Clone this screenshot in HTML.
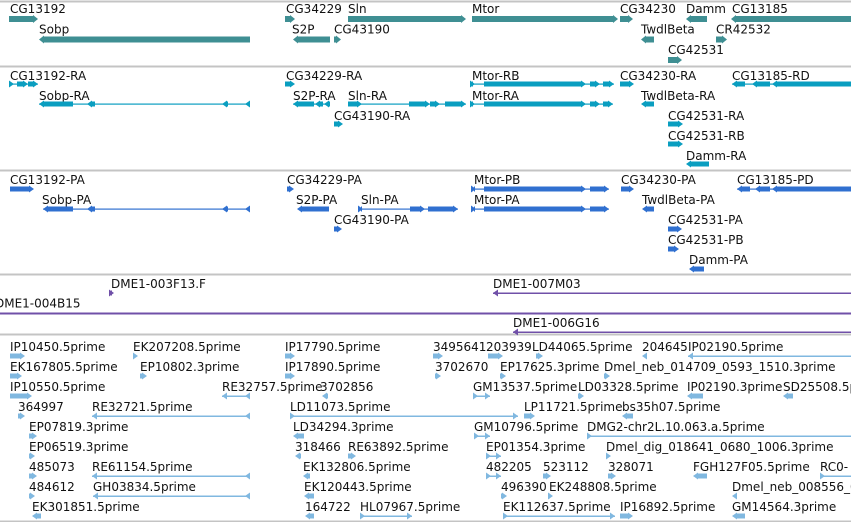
<!DOCTYPE html>
<html><head><meta charset="utf-8">
<style>
html,body{margin:0;padding:0;background:#fff;}
svg{display:block;}
text{font-family:"DejaVu Sans","Liberation Sans",sans-serif;font-size:12px;fill:#111;}
</style></head>
<body>
<svg id="v" width="851" height="522" viewBox="0 0 851 522"></svg>
<script>
// feature rows: [label, labelX, x1, x2, row, strand, kind, exons]
const geneFeatures = [
 ["CG13192",10,9,38,0,1,"b"],["Sobp",39,39,250,1,-1,"b"],["CG34229",286,285,295,0,1,"b"],
 ["Sln",348,348,466,0,1,"b"],["S2P",292,293,330,1,-1,"b"],["CG43190",334,334,341,1,1,"b"],
 ["Mtor",472,472,618,0,1,"b"],["CG34230",620,620,633,0,1,"b"],["Damm",686,686,707,0,-1,"b"],
 ["CG13185",732,731,851,0,-1,"b"],["TwdlBeta",641,641,654,1,-1,"b"],["CR42532",716,716,727,1,1,"b"],
 ["CG42531",668,668,682,2,1,"b"]
];
const rnaFeatures = [
 ["CG13192-RA",10,9,38,0,1,"e",[[9,14],[17,28],[28,38]]],
 ["Sobp-RA",39,39,250,1,-1,"e",[[39,73],[87,95],[222,228],[245,250]]],
 ["CG34229-RA",286,285,295,0,1,"b"],
 ["S2P-RA",293,293,330,1,-1,"e",[[293,314],[315,323],[324,330]]],
 ["Sln-RA",348,348,466,1,1,"e",[[348,362],[409,430],[430,440],[445,466]]],
 ["CG43190-RA",334,334,343,2,1,"b"],
 ["Mtor-RB",472,472,614,0,1,"e",[[472,475],[484,586],[590,600],[603,614]]],
 ["Mtor-RA",472,472,613,1,1,"e",[[472,475],[484,586],[590,600],[603,613]]],
 ["CG34230-RA",620,620,634,0,1,"b"],
 ["CG13185-RD",732,732,851,0,-1,"e",[[732,745],[752,770],[772,851]]],
 ["TwdlBeta-RA",641,641,654,1,-1,"b"],
 ["CG42531-RA",668,668,683,2,1,"b"],["CG42531-RB",668,668,683,3,1,"b"],
 ["Damm-RA",686,686,709,4,-1,"b"]
];
const proteinFeatures = [
 ["CG13192-PA",10,10,34,0,1,"b"],
 ["Sobp-PA",42,43,250,1,-1,"e",[[43,73],[87,95],[222,228],[245,250]]],
 ["CG34229-PA",287,287,294,0,1,"b"],
 ["S2P-PA",296,297,329,1,-1,"b"],
 ["Sln-PA",361,361,458,1,1,"e",[[361,363],[410,425],[428,458]]],
 ["CG43190-PA",334,334,342,2,1,"b"],
 ["Mtor-PB",474,474,609,0,1,"e",[[474,476],[484,586],[590,609]]],
 ["Mtor-PA",474,474,609,1,1,"e",[[474,476],[484,586],[590,609]]],
 ["CG34230-PA",621,621,634,0,1,"b"],
 ["CG13185-PD",737,737,851,0,-1,"e",[[737,750],[755,770],[772,851]]],
 ["TwdlBeta-PA",642,642,654,1,-1,"b"],
 ["CG42531-PA",668,668,682,2,1,"b"],["CG42531-PB",668,668,679,3,1,"b"],
 ["Damm-PA",689,689,704,4,-1,"b"]
];
const cloneFeatures = [
 ["DME1-003F13.F",111,111,114,0,1,"b"],
 ["DME1-007M03",493,493,851,0,-1,"l"],
 ["DME1-004B15",-5,0,851,1,-1,"n"],
 ["DME1-006G16",513,513,851,2,-1,"l"]
];
const estFeatures = [
 ["IP10450.5prime",10,10,25,0,1,"b"],["EK207208.5prime",133,133,138,0,1,"b"],["IP17790.5prime",285,285,295,0,1,"b"],
 ["3495641",433,433,443,0,1,"b"],["203939",486,488,503,0,1,"b"],["LD44065.5prime",532,536,543,0,1,"b"],
 ["204645",642,642,646,0,-1,"b"],["IP02190.5prime",688,688,851,0,-1,"l"],
 ["EK167805.5prime",10,10,22,1,1,"b"],["EP10802.3prime",140,140,147,1,1,"b"],["IP17890.5prime",285,285,295,1,1,"b"],
 ["3702670",435,435,441,1,1,"b"],["EP17625.3prime",500,500,506,1,1,"b"],["Dmel_neb_014709_0593_1510.3prime",604,604,610,1,1,"b"],
 ["IP10550.5prime",10,10,32,2,1,"b"],["RE32757.5prime",222,222,250,2,-1,"l"],["3702856",320,322,328,2,-1,"b"],
 ["GM13537.5prime",473,473,490,2,1,"l"],["LD03328.5prime",578,578,584,2,1,"b"],["IP02190.3prime",687,687,703,2,-1,"b"],["SD25508.5prime",783,783,793,2,-1,"b"],
 ["364997",18,18,25,3,1,"b"],["RE32721.5prime",92,92,250,3,-1,"l"],["LD11073.5prime",290,290,518,3,1,"l"],
 ["LP11721.5prime",524,524,535,3,1,"b"],["bs35h07.5prime",622,622,633,3,-1,"b"],
 ["EP07819.3prime",29,29,37,4,1,"b"],["LD34294.3prime",293,293,304,4,-1,"b"],
 ["GM10796.5prime",474,474,490,4,1,"l"],["DMG2-chr2L.10.063.a.5prime",587,587,851,4,1,"l"],
 ["EP06519.3prime",29,29,35,5,1,"b"],["318466",295,295,301,5,-1,"b"],["RE63892.5prime",348,348,356,5,1,"b"],
 ["EP01354.3prime",486,486,501,5,1,"l"],["Dmel_dig_018641_0680_1006.3prime",606,606,611,5,1,"b"],
 ["485073",29,29,37,6,1,"b"],["RE61154.5prime",92,92,250,6,-1,"l"],["EK132806.5prime",303,303,310,6,-1,"b"],
 ["482205",486,486,501,6,1,"l"],["523112",543,543,551,6,1,"b"],["328071",608,608,616,6,1,"b"],
 ["FGH127F05.5prime",693,693,707,6,-1,"b"],["RC0-",820,820,851,6,1,"l"],
 ["484612",29,29,35,7,1,"b"],["GH03834.5prime",93,93,250,7,-1,"l"],["EK120443.5prime",304,304,314,7,-1,"b"],
 ["496390",501,501,507,7,1,"b"],["EK248808.5prime",549,549,553,7,1,"b"],["Dmel_neb_008556_0",732,732,736,7,-1,"b"],
 ["EK301851.5prime",32,32,41,8,-1,"b"],["164722",305,305,314,8,-1,"b"],["HL07967.5prime",360,360,412,8,1,"l"],
 ["EK112637.5prime",503,503,615,8,1,"l"],["IP16892.5prime",620,620,633,8,1,"b"],["GM14564.3prime",732,732,745,8,-1,"b"]
];
// track layout: name, features, colour, label baseline of row0, bar centre row0, row spacing, bar height
const tracks = [
 ["gene-track",geneFeatures,"#3f8f93",13,19,20.5,6],
 ["transcript-track",rnaFeatures,"#0a9ec0",80,84,20,5],
 ["protein-track",proteinFeatures,"#3070d0",184,189,20,5],
 ["clone-track",cloneFeatures,"#7050a8",288,293,19.5,5],
 ["est-track",estFeatures,"#80b8e0",351,356,20,5]
];
const separators = [1,66,170,274,334,521];

const NS="http://www.w3.org/2000/svg";
const svg=document.getElementById('v');
function mk(tag,attrs,parent){const e=document.createElementNS(NS,tag);for(const k in attrs)e.setAttribute(k,attrs[k]);(parent||svg).appendChild(e);return e;}
separators.forEach((y,i)=>{
  const l=mk('line',{x1:0,x2:851,y1:y+0.5,y2:y+0.5,stroke:'#c4c4c4','stroke-width':2});
  
  
});
function arrow(g,x,cy,dir,h,col){
  const w=5;
  const pts=dir>0?`${x-w},${cy-h/2-1} ${x},${cy} ${x-w},${cy+h/2+1}`:`${x+w},${cy-h/2-1} ${x},${cy} ${x+w},${cy+h/2+1}`;
  mk('polygon',{points:pts,fill:col},g);
}
tracks.forEach(t=>{
  const [tname,feats,col,base0,bar0,sp,h]=t;
  const tg=mk('g',{});
  
  
  feats.forEach(f=>{
    const [lab,lx,x1,x2,row,strand,kind,ex]=f;
    const g=mk('g',{},tg);
    
    
    const cy=bar0+row*sp;
    const tx=mk('text',{x:lx,y:base0+row*sp},g);tx.textContent=lab;
    if(kind==='b'){
      if(strand>0){mk('rect',{x:x1,y:cy-h/2,width:Math.max(1,x2-x1-4),height:h,fill:col},g);arrow(g,x2,cy,1,h,col);}
      else{mk('rect',{x:x1+4,y:cy-h/2,width:Math.max(1,x2-x1-4),height:h,fill:col},g);arrow(g,x1,cy,-1,h,col);}
    }else if(kind==='e'){
      mk('rect',{x:x1,y:cy-0.5,width:x2-x1,height:1.2,fill:col},g);
      ex.forEach(e=>{
        if(strand>0){mk('rect',{x:e[0],y:cy-h/2,width:Math.max(1,e[1]-e[0]-4),height:h,fill:col},g);arrow(g,e[1],cy,1,h,col);}
        else{mk('rect',{x:e[0]+4,y:cy-h/2,width:Math.max(1,e[1]-e[0]-4),height:h,fill:col},g);arrow(g,e[0],cy,-1,h,col);}
      });
    }else if(kind==='l'){
      mk('rect',{x:x1,y:cy-0.5,width:x2-x1,height:1.5,fill:col},g);
      arrow(g,strand>0?x1+5:x1,cy,strand,h,col);
      if(x2<845) arrow(g,strand>0?x2:x2-5,cy,strand,h,col);
    }else{
      mk('rect',{x:x1,y:cy,width:x2-x1,height:2,fill:col},g);
    }
  });
});
</script>
</body></html>
